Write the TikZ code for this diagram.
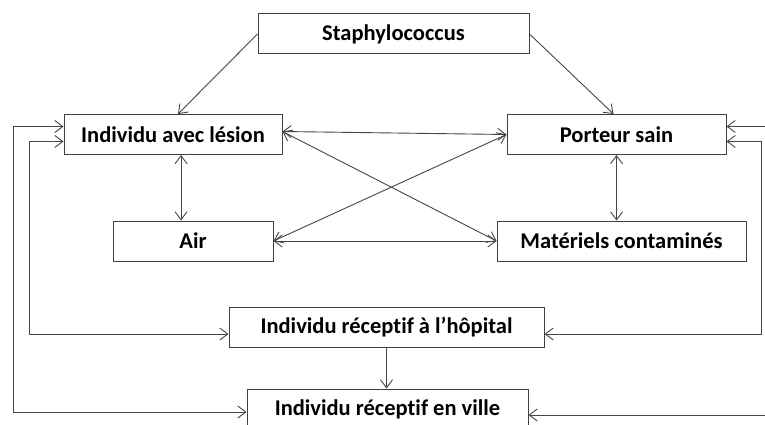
\documentclass[tikz,border=0pt]{standalone}
\usepackage{fontspec}
\setmainfont{Carlito}[Ligatures=NoCommon]
\usetikzlibrary{arrows.meta}

\tikzset{
  boite/.style={draw=boxColor,line width=1pt,fill=white,inner sep=0pt,
    minimum height=40pt,font=\fontsize{22.5}{26}\selectfont\bfseries},
  fleche/.style={draw=lineColor,line width=0.9pt,-{Straight Barb[length=8pt,width=12pt]}},
  double/.style={draw=lineColor,line width=0.9pt,{Straight Barb[length=8pt,width=12pt]}-{Straight Barb[length=8pt,width=12pt]}}
}

\begin{document}
\begin{tikzpicture}[x=1pt,y=-1pt]
\definecolor{boxColor}{RGB}{64,64,64}
\definecolor{lineColor}{RGB}{70,70,70}
\path[use as bounding box,fill=white] (0,0) rectangle (765,425);
\begin{scope}
\clip (0,0) rectangle (765,425);

% boxes
\node[boite,minimum width=271pt] (staph) at (393.5,34) {Staphylococcus};
\node[boite,minimum width=218pt] (lesion) at (173,134.5) {Individu avec lésion};
\node[boite,minimum width=219pt] (porteur) at (616.5,134.5) {Porteur sain};
\node[boite,minimum width=160pt] (air) at (193,241) {Air};
\node[boite,minimum width=249pt] (materiel) at (621.5,241) {Matériels contaminés};
\node[boite,minimum width=315pt] (hopital) at (386.5,327) {Individu réceptif à l’hôpital};
\node[boite,minimum width=281pt] (ville) at (387.5,409) {Individu réceptif en ville};

% source
\draw[fleche] (staph.west) -- ([xshift=5pt]lesion.north);
\draw[fleche] (staph.east) -- ([xshift=-3pt]porteur.north);

% exchanges
\draw[double] ([xshift=8pt]lesion.south) -- ([xshift=8pt]lesion.south |- air.north);
\draw[double] (porteur.south) -- (porteur.south |- materiel.north);
\draw[double] ([yshift=3pt]lesion.east) -- (porteur.west);
\draw[double] ([yshift=3pt]lesion.east) -- (materiel.west);
\draw[double] (air.east) -- (porteur.west);
\draw[double] (air.east) -- (materiel.west);

% hospital to town
\draw[fleche] (hopital.south) -- (hopital.south |- ville.north);

% left loops
\draw[double] ([yshift=8pt]lesion.west) -- (13,126.5) -- (13,412) -- ([yshift=-3pt]ville.west);
\draw[double] ([yshift=-7pt]lesion.west) -- (29,141.5) -- (29,334) -- ([yshift=-7pt]hopital.west);

% right loops
\draw[double] ([yshift=8pt]porteur.east) -- (775,126.5) -- (775,415) -- ([yshift=-6pt]ville.east);
\draw[double] ([yshift=-7pt]porteur.east) -- (761,141.5) -- (761,334) -- ([yshift=-7pt]hopital.east);
\end{scope}
\end{tikzpicture}
\end{document}
